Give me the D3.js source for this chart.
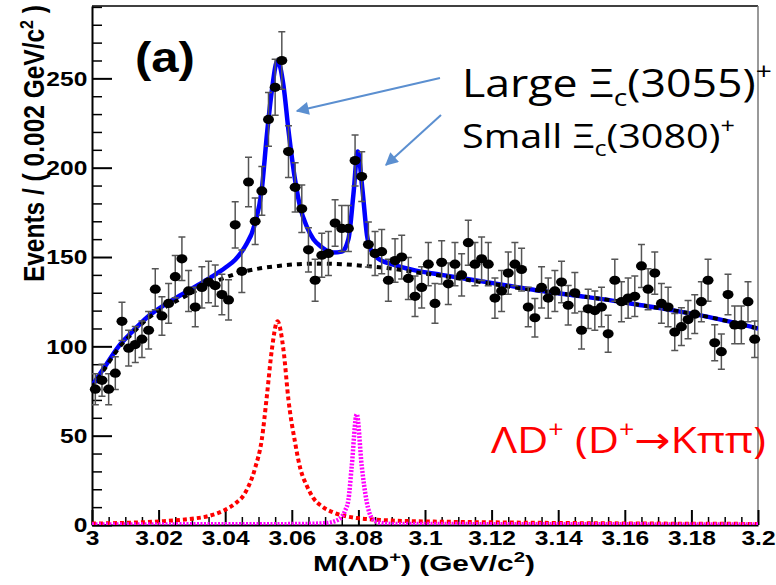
<!DOCTYPE html>
<html>
<head>
<meta charset="utf-8">
<script src="https://cdn.jsdelivr.net/npm/d3@7"></script>
<style>
  body { margin: 0; background: #fff; }
  svg { display: block; }
</style>
</head>
<body>
<svg width="776" height="585"></svg>
<script>
// event counts per 0.002 GeV/c^2 bin, 3.000 - 3.200
const counts = [
  76, 81, 76, 85, 114, 99, 101, 104, 109, 132,
  117, 124, 139, 149, 131, 122, 133, 136, 134, 129,
  126, 168, 142, 192, 170, 187, 227, 245, 260, 209,
  189, 177, 154, 137, 151, 152, 169, 166, 166, 204,
  195, 157, 152, 153, 137, 148, 150, 138, 128, 133,
  146, 124, 147, 135, 146, 140, 158, 146, 149, 146,
  127, 131, 141, 146, 143, 122, 116, 133, 127, 131,
  136, 123, 130, 109, 121, 120, 122, 107, 137, 125,
  127, 128, 145, 132, 141, 124, 122, 108, 111, 115,
  118, 125, 137, 102, 97, 129, 112, 112, 125, 104
];
const binStart = 3.0;
const binWidth = 0.002;

// fit curves: [mass, events]
const totalFit = [
  [3.000, 78], [3.004, 89], [3.008, 100], [3.012, 108], [3.017, 117],
  [3.022, 123.5], [3.027, 129], [3.032, 134.5], [3.036, 139], [3.040, 144],
  [3.043, 148.5], [3.046, 156], [3.049, 169], [3.051, 188], [3.0525, 218],
  [3.054, 243], [3.0557, 260], [3.0575, 246], [3.059, 221], [3.061, 193],
  [3.0625, 178], [3.0645, 167], [3.0665, 160], [3.069, 155.5], [3.0725, 152.5],
  [3.075, 153], [3.077, 160], [3.0785, 185], [3.0798, 209], [3.0812, 188],
  [3.0826, 162], [3.084, 153], [3.086, 149], [3.090, 146], [3.097, 142.5],
  [3.105, 140], [3.115, 137], [3.125, 134], [3.135, 131], [3.145, 128.5],
  [3.155, 126], [3.165, 123], [3.175, 120], [3.185, 116.5], [3.200, 110]
];
const background = [
  [3.000, 77], [3.004, 88], [3.008, 99], [3.012, 107], [3.017, 116],
  [3.022, 122], [3.027, 127], [3.032, 132], [3.038, 137], [3.044, 141],
  [3.050, 143.5], [3.056, 145], [3.062, 146], [3.068, 146.3], [3.075, 146],
  [3.082, 145], [3.090, 143.5], [3.097, 141.5], [3.105, 139.5], [3.115, 136.5],
  [3.125, 133.5], [3.135, 131], [3.145, 128.5], [3.155, 126], [3.165, 123],
  [3.175, 120], [3.185, 116.5], [3.200, 110]
];
const signal3055 = [
  [3.000, 0.8], [3.010, 1.2], [3.020, 2], [3.030, 3.5], [3.035, 5],
  [3.040, 8.5], [3.043, 12], [3.046, 18], [3.049, 32], [3.051, 48],
  [3.0525, 72], [3.054, 98], [3.0557, 114], [3.0575, 98], [3.059, 70],
  [3.061, 46], [3.0625, 32], [3.0645, 22], [3.0665, 15], [3.069, 10.5],
  [3.0725, 7], [3.076, 5], [3.080, 3.8], [3.085, 3], [3.090, 2.5],
  [3.100, 2], [3.120, 1.5], [3.150, 1], [3.200, 0.6]
];
const signal3080 = [
  [3.000, 0.3], [3.060, 0.5], [3.070, 1], [3.074, 3], [3.076, 8],
  [3.077, 14], [3.078, 33], [3.0795, 62], [3.081, 33], [3.0825, 13],
  [3.084, 4], [3.086, 1.5], [3.090, 0.6], [3.200, 0.3]
];

const xMajor = [3.0, 3.02, 3.04, 3.06, 3.08, 3.1, 3.12, 3.14, 3.16, 3.18, 3.2];
const xLabels = ["3", "3.02", "3.04", "3.06", "3.08", "3.1", "3.12", "3.14", "3.16", "3.18", "3.2"];
const yMajor = [0, 50, 100, 150, 200, 250];
const yLabels = ["0", "50", "100", "150", "200", "250"];

const width = 776, height = 585;
const margin = { top: 6, right: 18, bottom: 60, left: 92 };
const sx = 1.17; // the original figure is stretched sideways

const svg = d3.select("svg");

const x = d3.scaleLinear()
  .domain([3.0, 3.2])
  .range([margin.left, width - margin.right]);

const y = d3.scaleLinear()
  .domain([0, 290.5])
  .range([height - margin.bottom, margin.top]);

const bold = "'Liberation Sans', Arial, sans-serif";

// frame (top + right)
svg.append("line")
  .attr("x1", x(3.0)).attr("x2", x(3.2))
  .attr("y1", y.range()[1]).attr("y2", y.range()[1])
  .attr("stroke", "#000").attr("stroke-width", 1.5);
svg.append("line")
  .attr("x1", x(3.2)).attr("x2", x(3.2))
  .attr("y1", y.range()[1]).attr("y2", y.range()[0])
  .attr("stroke", "#777").attr("stroke-width", 1.5);

// axes, ROOT style: ticks pointing inside
const yMinor = d3.range(0, 291, 10).filter(v => v % 50 !== 0);
const xMinor = d3.range(0, 41).map(i => 3 + i * 0.005).filter((v, i) => i % 4 !== 0);

svg.append("g")
  .attr("transform", `translate(${margin.left},0)`)
  .call(d3.axisLeft(y).tickValues(yMinor).tickSize(-10).tickFormat(""))
  .call(g => g.select(".domain").remove())
  .selectAll("line").attr("stroke-width", 1.5);

svg.append("g")
  .attr("transform", `translate(0,${y(0)})`)
  .call(d3.axisBottom(x).tickValues(xMinor).tickSize(-8).tickFormat(""))
  .call(g => g.select(".domain").remove())
  .selectAll("line").attr("stroke-width", 1.5);

svg.append("g")
  .attr("transform", `translate(${margin.left},0)`)
  .call(d3.axisLeft(y).tickValues(yMajor).tickSize(-20).tickSizeOuter(0)
    .tickPadding(4).tickFormat((d, i) => yLabels[i]))
  .call(g => g.selectAll("line,path").attr("stroke-width", 2))
  .call(g => g.selectAll("text")
    .attr("font-family", bold).attr("font-weight", "bold").attr("font-size", 21)
    .attr("fill", "#000").attr("transform", `scale(${sx},1)`));

svg.append("g")
  .attr("transform", `translate(0,${y(0)})`)
  .call(d3.axisBottom(x).tickValues(xMajor).tickSize(-15).tickSizeOuter(0)
    .tickPadding(5).tickFormat((d, i) => xLabels[i]))
  .call(g => g.selectAll("line,path").attr("stroke-width", 2))
  .call(g => g.selectAll("text")
    .attr("font-family", bold).attr("font-weight", "bold").attr("font-size", 21)
    .attr("fill", "#000").attr("transform", `scale(${sx},1)`));

// curves
svg.append("clipPath").attr("id", "plot")
  .append("rect")
  .attr("x", x(3.0)).attr("y", y.range()[1])
  .attr("width", x(3.2) - x(3.0)).attr("height", y(0) - y.range()[1]);

const line = d3.line()
  .x(d => x(d[0]))
  .y(d => y(d[1]))
  .curve(d3.curveMonotoneX);

const curves = svg.append("g").attr("clip-path", "url(#plot)").attr("fill", "none");

curves.append("path").datum(signal3055)
  .attr("d", line).attr("stroke", "#ff0000").attr("stroke-width", 4)
  .attr("stroke-dasharray", "4,3");
curves.append("path").datum(signal3080)
  .attr("d", line).attr("stroke", "#ff00ff").attr("stroke-width", 4.5)
  .attr("stroke-dasharray", "2,1.5");
curves.append("path").datum(totalFit)
  .attr("d", line).attr("stroke", "#0000ff").attr("stroke-width", 4.5);
curves.append("path").datum(background)
  .attr("d", line).attr("stroke", "#000").attr("stroke-width", 4)
  .attr("stroke-dasharray", "5,5");

// data points with sqrt(N) errors
const points = counts.map((n, i) => ({ m: binStart + binWidth * (i + 0.5), n }));
const pts = svg.append("g");
const cap = 3.5;

pts.selectAll("line.err")
  .data(points)
  .join("line")
  .attr("class", "err")
  .attr("x1", d => x(d.m)).attr("x2", d => x(d.m))
  .attr("y1", d => y(d.n + Math.sqrt(d.n))).attr("y2", d => y(d.n - Math.sqrt(d.n)))
  .attr("stroke", "#555").attr("stroke-width", 1.5);

pts.selectAll("path.cap")
  .data(points)
  .join("path")
  .attr("class", "cap")
  .attr("d", d => {
    const cx = x(d.m), top = y(d.n + Math.sqrt(d.n)), bot = y(d.n - Math.sqrt(d.n));
    return `M${cx - cap},${top}H${cx + cap}M${cx - cap},${bot}H${cx + cap}`;
  })
  .attr("stroke", "#555").attr("stroke-width", 1.5);

pts.selectAll("ellipse")
  .data(points)
  .join("ellipse")
  .attr("cx", d => x(d.m)).attr("cy", d => y(d.n))
  .attr("rx", 5.5).attr("ry", 4.6)
  .attr("fill", "#000");

// text helpers
function fit(sel, x0, y0, w) {
  const bw = sel.node().getBBox().width;
  sel.attr("transform", `translate(${x0},${y0}) scale(${w / bw},1)`);
}

// axis titles
const yTitle = svg.append("text")
  .attr("font-family", bold).attr("font-weight", "bold").attr("font-size", 24.5)
  .attr("text-anchor", "end")
  .attr("transform", `translate(44,5) scale(${sx},1) rotate(-90)`);
yTitle.append("tspan").text("Events / ( 0.002 GeV/c");
yTitle.append("tspan").attr("font-size", 16).attr("dy", -9).text("2");
yTitle.append("tspan").attr("dy", 9).text(" )");

const xTitle = svg.append("text")
  .attr("font-family", bold).attr("font-weight", "bold").attr("font-size", 22);
xTitle.append("tspan").text("M(ΛD");
xTitle.append("tspan").attr("font-size", 15).attr("dy", -9).text("+");
xTitle.append("tspan").attr("dy", 9).text(") (GeV/c");
xTitle.append("tspan").attr("font-size", 15).attr("dy", -9).text("2");
xTitle.append("tspan").attr("dy", 9).text(")");
fit(xTitle, 313, 571, 222);

// panel label
const panel = svg.append("text")
  .attr("font-family", bold).attr("font-weight", "bold").attr("font-size", 42)
  .text("(a)");
fit(panel, 135, 72, 60);

// annotations
const anno = "'Open Sans', 'Noto Sans', sans-serif";
const large = svg.append("text").attr("font-family", anno).attr("font-size", 38).attr("fill", "#000");
large.append("tspan").text("Large Ξ");
large.append("tspan").attr("font-size", 24).attr("dy", 9).text("c");
large.append("tspan").attr("dy", -9).text("(3055)");
large.append("tspan").attr("font-size", 24).attr("dy", -17).text("+");
fit(large, 462, 97, 310);

const small = svg.append("text").attr("font-family", anno).attr("font-size", 33).attr("fill", "#000");
small.append("tspan").text("Small Ξ");
small.append("tspan").attr("font-size", 21).attr("dy", 8).text("c");
small.append("tspan").attr("dy", -8).text("(3080)");
small.append("tspan").attr("font-size", 21).attr("dy", -15).text("+");
fit(small, 462, 148, 273);

const decay = svg.append("text").attr("font-family", anno).attr("font-size", 37).attr("fill", "#ff0000");
decay.append("tspan").text("ΛD");
decay.append("tspan").attr("font-size", 23).attr("dy", -15).text("+");
decay.append("tspan").attr("dy", 15).text(" (D");
decay.append("tspan").attr("font-size", 23).attr("dy", -15).text("+");
decay.append("tspan").attr("dy", 15).attr("font-family", "'DejaVu Sans', sans-serif").text("→");
decay.append("tspan").text("Kππ)");
fit(decay, 491, 453, 275);

// arrows
const arrowColor = "#5b8fd0";
svg.append("defs").append("marker")
  .attr("id", "head")
  .attr("viewBox", "0 0 10 10")
  .attr("refX", 9).attr("refY", 5)
  .attr("markerWidth", 16).attr("markerHeight", 13)
  .attr("markerUnits", "userSpaceOnUse")
  .attr("orient", "auto")
  .append("path").attr("d", "M0,0L10,5L0,10Z").attr("fill", arrowColor);

const arrows = [
  [440, 78, 297, 111],
  [441, 115, 386, 165]
];
svg.append("g").selectAll("line")
  .data(arrows)
  .join("line")
  .attr("x1", d => d[0]).attr("y1", d => d[1])
  .attr("x2", d => d[2]).attr("y2", d => d[3])
  .attr("stroke", arrowColor).attr("stroke-width", 2)
  .attr("marker-end", "url(#head)");
</script>
</body>
</html>
